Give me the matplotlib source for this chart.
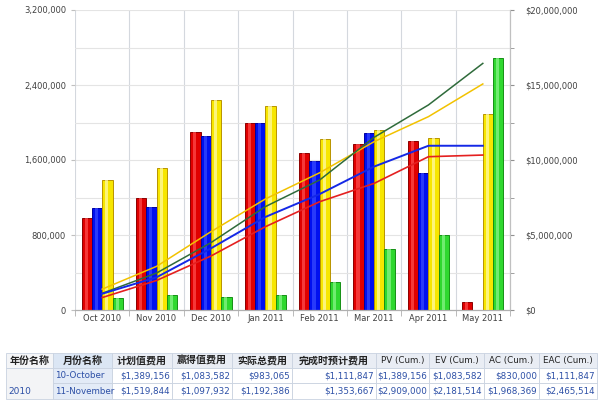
import numpy as np
import matplotlib
matplotlib.use('Agg')
import matplotlib.pyplot as plt
from matplotlib.patches import Rectangle
from matplotlib.ticker import FuncFormatter, MultipleLocator

plt.rcParams['font.family'] = ['DejaVu Sans', 'Noto Sans CJK SC']

months = ['Oct 2010', 'Nov 2010', 'Dec 2010', 'Jan 2011',
          'Feb 2011', 'Mar 2011', 'Apr 2011', 'May 2011']

# monthly bars (left axis)
ac_month = [983065, 1192386, 1902000, 2000000, 1680000, 1770000, 1806000, 82000]
ev_month = [1083582, 1097932, 1860000, 2000000, 1590000, 1885000, 1458000, 0]
pv_month = [1389156, 1519844, 2240000, 2180000, 1820000, 1920000, 1838000, 2094000]
gr_month = [125000, 160000, 142000, 160000, 302000, 647000, 800000, 2688000]

# cumulative lines (right axis)
pv_cum = [1389156, 2909000, 5220000, 7400000, 9150000, 11220000, 12890000, 15070000]
eac_cum = [1111847, 2465514, 4490000, 6890000, 8670000, 11510000, 13670000, 16440000]
ev_cum = [1083582, 2181514, 4110000, 6200000, 7730000, 9560000, 10950000, 10950000]
ac_cum = [830000, 1968369, 3600000, 5550000, 7220000, 8440000, 10220000, 10330000]

# table below the chart
tbl_header = ['年份名称', '月份名称', '计划值费用', '赢得值费用', '实际总费用',
              '完成时预计费用', 'PV (Cum.)', 'EV (Cum.)', 'AC (Cum.)', 'EAC (Cum.)']
tbl_rows = [
    ['10-October', '$1,389,156', '$1,083,582', '$983,065', '$1,111,847',
     '$1,389,156', '$1,083,582', '$830,000', '$1,111,847'],
    ['11-November', '$1,519,844', '$1,097,932', '$1,192,386', '$1,353,667',
     '$2,909,000', '$2,181,514', '$1,968,369', '$2,465,514'],
]
tbl_year = '2010'

fig = plt.figure(figsize=(6, 4), dpi=100)
fig.patch.set_facecolor('white')
ax = fig.add_axes([0.125, 0.225, 0.725, 0.75])
ax2 = ax.twinx()

x = np.arange(len(months))
w = 0.19
bar_specs = [
    (ac_month, '#e00000', '#8c0000', '#ff5050'),
    (ev_month, '#0010f0', '#0000a0', '#3a4cff'),
    (pv_month, '#f7e600', '#b89400', '#fffbb0'),
    (gr_month, '#2fd82f', '#159015', '#8cf58c'),
]
for i, (vals, col, edge, hi) in enumerate(bar_specs):
    vals = np.array(vals)
    pos = x + (i - 1.5) * w
    ax.bar(pos, vals, w, color=col, edgecolor=edge, linewidth=0.7, zorder=2)
    m = vals > 0
    ax.bar(pos[m] - w * 0.05, vals[m], w * 0.3, color=hi, linewidth=0,
           alpha=0.7, zorder=3)

ax2.plot(x, pv_cum, color='#f2c200', lw=1.1)
ax2.plot(x, eac_cum, color='#2f6b3b', lw=1.1)
ax2.plot(x, ev_cum, color='#1428e6', lw=1.4)
ax2.plot(x, ac_cum, color='#e42020', lw=1.2)

ax.set_xlim(-0.5, len(months) - 0.5)
ax.set_ylim(0, 3200000)
ax2.set_ylim(0, 20000000)

ax.yaxis.set_major_locator(MultipleLocator(800000))
ax.yaxis.set_minor_locator(MultipleLocator(400000))
ax.yaxis.set_major_formatter(FuncFormatter(lambda v, p: f'{int(v):,}'))
ax2.yaxis.set_major_locator(MultipleLocator(5000000))
ax2.yaxis.set_minor_locator(MultipleLocator(2500000))
ax2.yaxis.set_major_formatter(FuncFormatter(lambda v, p: f'${int(v):,}'))

ax.set_xticks(x)
ax.set_xticklabels(months)
ax.set_xticks(np.arange(-0.5, len(months)), minor=True)

ax.grid(True, which='both', axis='y', color='#e4e4e4', lw=0.8, zorder=0)
ax.grid(True, which='minor', axis='x', color='#d4d8de', lw=0.8, zorder=0)
ax.set_axisbelow(True)

ax.tick_params(axis='x', which='major', length=0, labelsize=6, colors='#404040', pad=3)
ax.tick_params(axis='x', which='minor', length=4, color='#b0b0b0')
ax.tick_params(axis='y', which='both', length=3, color='#c0c0c0', labelsize=6, labelcolor='#404040')
ax.tick_params(axis='y', which='minor', length=0)
ax2.tick_params(axis='y', which='both', length=3, color='#909090', labelsize=6, labelcolor='#404040', pad=8)

for a in (ax, ax2):
    a.spines['top'].set_visible(False)
    a.spines['left'].set_visible(False)
    a.spines['right'].set_color('#c0c0c0')
    a.spines['bottom'].set_color('#b0b0b0')

# table drawn in pixel coordinates
tx = fig.add_axes([0, 0, 1, 1], zorder=5)
tx.set_xlim(0, 600)
tx.set_ylim(400, 0)
tx.axis('off')
edges = [6, 53, 112, 172, 232, 292, 376, 429, 484, 539, 597]
rows_y = [353, 368, 383, 399]
grid_c = '#c9d2e0'
txt_blue = '#2c4fa6'

for j, h in enumerate(tbl_header):
    bg = '#dbe6f4' if j == 1 else ('#f4f5f7' if j == 0 else '#e9edf4')
    tx.add_patch(Rectangle((edges[j], rows_y[0]), edges[j + 1] - edges[j],
                           rows_y[1] - rows_y[0], facecolor=bg, edgecolor=grid_c, lw=0.6))
    if 'Cum' in h:
        tx.text((edges[j] + edges[j + 1]) / 2, (rows_y[0] + rows_y[1]) / 2 + 0.5, h,
                ha='center', va='center', fontsize=6.3, color='#222222')
    else:
        tx.text((edges[j] + edges[j + 1]) / 2, (rows_y[0] + rows_y[1]) / 2 + 0.5, h,
                ha='center', va='center', fontsize=7.2, fontweight='bold', color='#222222',
                family=['Noto Sans CJK SC', 'DejaVu Sans'])

tx.add_patch(Rectangle((edges[0], rows_y[1]), edges[1] - edges[0],
                       rows_y[3] - rows_y[1], facecolor='#f3f4f6', edgecolor=grid_c, lw=0.6))
tx.text(edges[0] + 2, (rows_y[2] + rows_y[3]) / 2, tbl_year, ha='left', va='center',
        fontsize=6.5, color=txt_blue)
for r, row in enumerate(tbl_rows):
    for j, val in enumerate(row):
        c = j + 1
        bg = '#e3ebf7' if c == 1 else 'white'
        tx.add_patch(Rectangle((edges[c], rows_y[r + 1]), edges[c + 1] - edges[c],
                               rows_y[r + 2] - rows_y[r + 1], facecolor=bg,
                               edgecolor=grid_c, lw=0.6))
        yc = (rows_y[r + 1] + rows_y[r + 2]) / 2
        if c == 1:
            tx.text(edges[c] + 2, yc, val, ha='left', va='center', fontsize=6.3,
                    color=txt_blue)
        else:
            tx.text(edges[c + 1] - 2, yc, val, ha='right', va='center', fontsize=6.3,
                    color=txt_blue)

fig.savefig('out.png', dpi=100)
